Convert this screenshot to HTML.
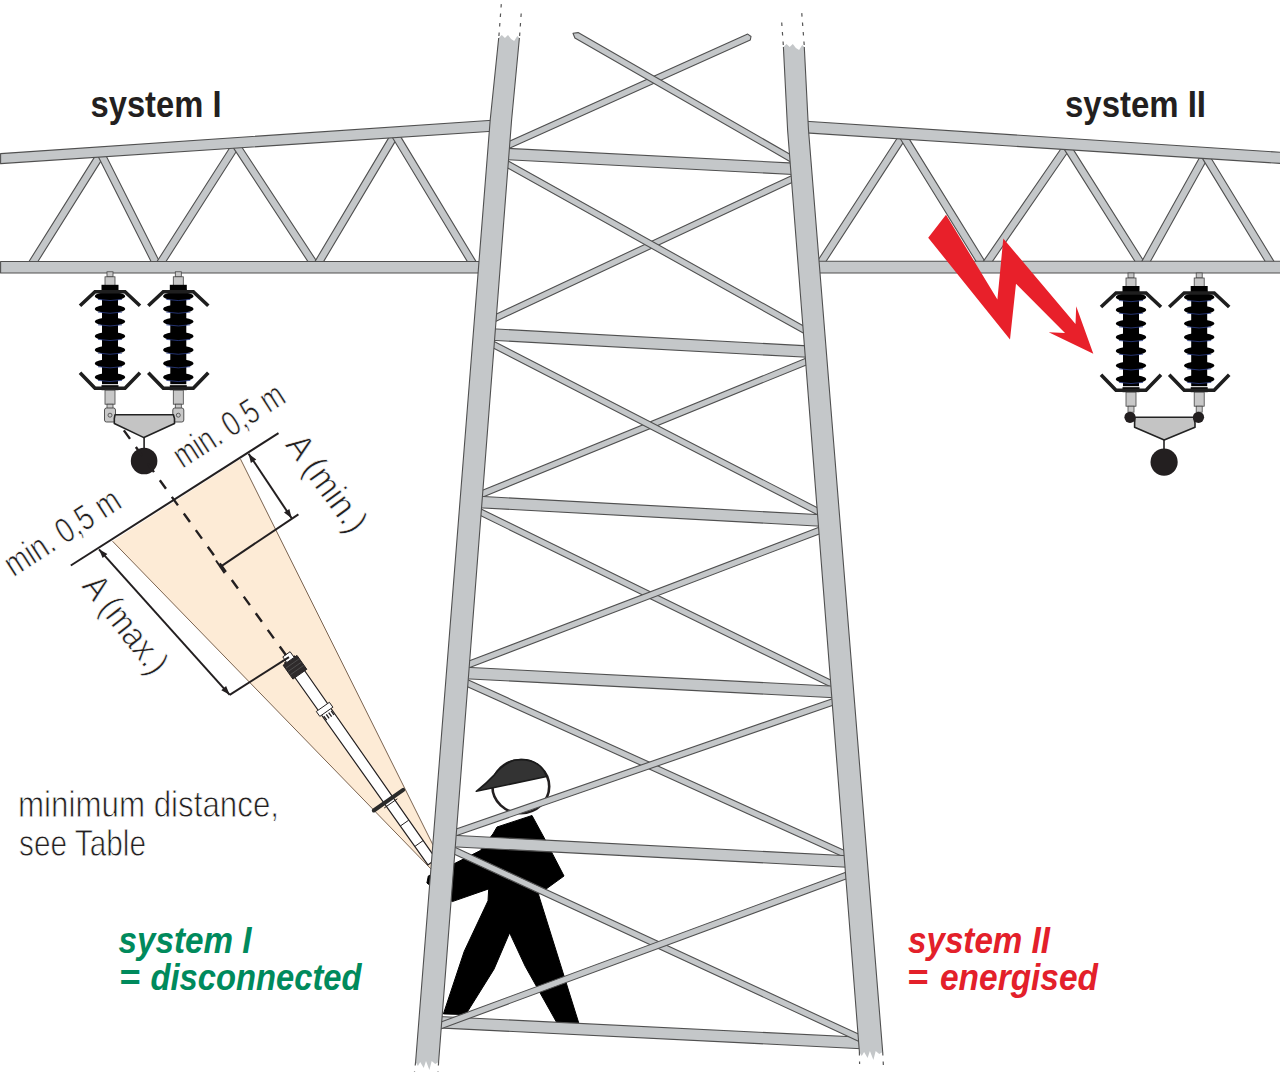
<!DOCTYPE html>
<html><head><meta charset="utf-8"><style>
html,body{margin:0;padding:0;background:#fff;}
body{width:1280px;height:1076px;overflow:hidden;}
svg{display:block;}
</style></head><body>
<svg width="1280" height="1076" viewBox="0 0 1280 1076">
<rect width="1280" height="1076" fill="#ffffff"/>
<polygon points="112.5,541.2 240.5,459.1 433.0,845.0 431.0,869.0" fill="#fdebd6" stroke="none"/>
<line x1="112.5" y1="541.2" x2="431" y2="869" stroke="#7a6350" stroke-width="1"/>
<line x1="240.5" y1="459.1" x2="433" y2="845" stroke="#7a6350" stroke-width="1"/>
<polygon points="294.4,656.0 436.1,859.1 427.9,864.9 284.6,663.0" fill="#ffffff" stroke="#231f20" stroke-width="1.2" stroke-linejoin="round" />
<polygon points="297.0,655.4 306.8,669.3 292.9,679.1 283.1,665.2" fill="#2e2a2b" stroke="#231f20" stroke-width="1" stroke-linejoin="round" />
<polygon points="290.1,651.7 294.2,657.4 286.8,662.6 282.8,656.9" fill="#ffffff" stroke="#231f20" stroke-width="1" stroke-linejoin="round" />
<line x1="298.9" y1="659.0" x2="285.8" y2="668.2" stroke="#555" stroke-width="0.8"/>
<line x1="301.2" y1="662.3" x2="288.1" y2="671.5" stroke="#555" stroke-width="0.8"/>
<line x1="303.5" y1="665.5" x2="290.4" y2="674.7" stroke="#555" stroke-width="0.8"/>
<polygon points="329.4,702.3 332.9,707.2 319.8,716.4 316.3,711.5" fill="#ffffff" stroke="#231f20" stroke-width="1" stroke-linejoin="round" />
<line x1="331.2" y1="710.9" x2="334.0" y2="715.0" stroke="#231f20" stroke-width="1.3"/>
<line x1="328.7" y1="712.6" x2="331.6" y2="716.7" stroke="#231f20" stroke-width="1.3"/>
<line x1="326.3" y1="714.3" x2="329.1" y2="718.4" stroke="#231f20" stroke-width="1.3"/>
<line x1="323.8" y1="716.1" x2="326.7" y2="720.2" stroke="#231f20" stroke-width="1.3"/>
<line x1="403.2" y1="789.8" x2="373.8" y2="810.5" stroke="#2a2a2a" stroke-width="4" stroke-linecap="round"/>
<line x1="397.3" y1="798.8" x2="384.2" y2="808.0" stroke="#231f20" stroke-width="1"/>
<line x1="408.7" y1="820.2" x2="400.5" y2="825.9" stroke="#231f20" stroke-width="1"/>
<line x1="423.1" y1="840.6" x2="414.9" y2="846.4" stroke="#231f20" stroke-width="1"/>
<polygon points="497.0,827.0 532.0,815.5 545.0,839.4 564.0,876.0 538.5,894.5 578.7,1022.8 556.4,1022.0 525.2,966.3 509.6,932.8 494.0,969.2 465.7,1014.6 443.4,1013.9 464.2,951.4 488.0,900.8 488.7,888.9 452.3,901.6 426.9,883.0 428.3,876.0 455.0,863.3 480.3,850.6 493.0,833.8" fill="#000000" stroke="#000000" stroke-width="1" stroke-linejoin="round" />
<ellipse cx="520.8" cy="786.6" rx="28.4" ry="26.6" fill="#ffffff" stroke="#231f20" stroke-width="2.6"/>
<path d="M476.3,791.3 Q487,783 494.6,774.6 Q503,764 514,760.3 Q530,757.5 540,766 Q545,771 546.6,776.5 Z" fill="#333333" stroke="#1a1a1a" stroke-width="1.6" stroke-linejoin="round"/>
<polygon points="33.2,269.0 104.2,155.9 97.8,151.9 26.8,265.0" fill="#c4c7c9" stroke="#505050" stroke-width="1.1" stroke-linejoin="round" />
<polygon points="97.7,155.6 154.7,268.7 161.3,265.3 104.3,152.2" fill="#c4c7c9" stroke="#505050" stroke-width="1.1" stroke-linejoin="round" />
<polygon points="161.2,269.0 239.2,147.0 232.8,143.0 154.8,265.0" fill="#c4c7c9" stroke="#505050" stroke-width="1.1" stroke-linejoin="round" />
<polygon points="232.9,147.1 312.9,269.1 319.1,264.9 239.1,143.0" fill="#c4c7c9" stroke="#505050" stroke-width="1.1" stroke-linejoin="round" />
<polygon points="319.2,268.9 398.2,136.4 391.8,132.6 312.8,265.1" fill="#c4c7c9" stroke="#505050" stroke-width="1.1" stroke-linejoin="round" />
<polygon points="391.8,136.5 471.8,268.9 478.2,265.1 398.2,132.6" fill="#c4c7c9" stroke="#505050" stroke-width="1.1" stroke-linejoin="round" />
<polygon points="821.1,269.0 906.1,138.1 899.9,134.0 814.9,265.0" fill="#c4c7c9" stroke="#505050" stroke-width="1.1" stroke-linejoin="round" />
<polygon points="899.8,138.0 980.8,269.0 987.2,265.0 906.2,134.1" fill="#c4c7c9" stroke="#505050" stroke-width="1.1" stroke-linejoin="round" />
<polygon points="987.1,269.1 1070.1,148.7 1063.9,144.5 980.9,264.9" fill="#c4c7c9" stroke="#505050" stroke-width="1.1" stroke-linejoin="round" />
<polygon points="1063.8,148.6 1139.8,269.0 1146.2,265.0 1070.2,144.6" fill="#c4c7c9" stroke="#505050" stroke-width="1.1" stroke-linejoin="round" />
<polygon points="1146.3,268.8 1208.3,157.3 1201.7,153.7 1139.7,265.2" fill="#c4c7c9" stroke="#505050" stroke-width="1.1" stroke-linejoin="round" />
<polygon points="1201.8,157.4 1269.8,269.0 1276.2,265.0 1208.2,153.5" fill="#c4c7c9" stroke="#505050" stroke-width="1.1" stroke-linejoin="round" />
<polygon points="0.6,153.6 496.0,120.0 496.0,131.0 0.6,163.6" fill="#c4c7c9" stroke="#505050" stroke-width="1.1" stroke-linejoin="round" />
<polygon points="802.0,121.0 1282.0,152.4 1282.0,163.5 802.0,132.6" fill="#c4c7c9" stroke="#505050" stroke-width="1.1" stroke-linejoin="round" />
<polygon points="0.6,261.5 482.0,261.5 482.0,273.0 0.6,273.0" fill="#c4c7c9" stroke="#505050" stroke-width="1.1" stroke-linejoin="round" />
<polygon points="815.0,261.2 1282.0,261.2 1282.0,273.0 815.0,273.0" fill="#c4c7c9" stroke="#505050" stroke-width="1.1" stroke-linejoin="round" />
<polygon points="747.7,34.1 506.3,142.6 508.9,148.4 750.3,39.9 751.0,36.5" fill="#c4c7c9" stroke="#505050" stroke-width="1.1" stroke-linejoin="round" />
<polygon points="574.9,38.0 790.3,161.7 793.4,156.3 578.1,32.6 573.0,33.3" fill="#c4c7c9" stroke="#505050" stroke-width="1.1" stroke-linejoin="round" />
<polygon points="792.0,175.4 492.9,315.7 495.5,321.5 794.7,181.2" fill="#c4c7c9" stroke="#505050" stroke-width="1.1" stroke-linejoin="round" />
<polygon points="504.7,166.3 803.7,333.3 806.7,327.7 507.8,160.7" fill="#c4c7c9" stroke="#505050" stroke-width="1.1" stroke-linejoin="round" />
<polygon points="806.4,358.1 479.4,491.6 481.8,497.4 808.8,363.9" fill="#c4c7c9" stroke="#505050" stroke-width="1.1" stroke-linejoin="round" />
<polygon points="490.8,346.8 817.9,515.1 820.8,509.5 493.7,341.2" fill="#c4c7c9" stroke="#505050" stroke-width="1.1" stroke-linejoin="round" />
<polygon points="477.9,514.3 831.4,687.3 834.2,681.7 480.6,508.7" fill="#c4c7c9" stroke="#505050" stroke-width="1.1" stroke-linejoin="round" />
<polygon points="819.6,527.1 466.2,662.1 468.5,667.9 821.9,532.9" fill="#c4c7c9" stroke="#505050" stroke-width="1.1" stroke-linejoin="round" />
<polygon points="464.7,685.4 844.7,857.6 847.3,851.8 467.3,679.6" fill="#c4c7c9" stroke="#505050" stroke-width="1.1" stroke-linejoin="round" />
<polygon points="833.1,698.5 453.3,830.0 455.4,836.0 835.1,704.5" fill="#c4c7c9" stroke="#505050" stroke-width="1.1" stroke-linejoin="round" />
<polygon points="505.7,159.7 793.3,174.5 793.9,163.1 506.3,148.3" fill="#c4c7c9" stroke="#505050" stroke-width="1.1" stroke-linejoin="round" />
<polygon points="491.7,340.2 807.5,357.3 808.2,345.9 492.3,328.8" fill="#c4c7c9" stroke="#505050" stroke-width="1.1" stroke-linejoin="round" />
<polygon points="478.7,507.7 820.7,526.2 821.3,514.8 479.3,496.3" fill="#c4c7c9" stroke="#505050" stroke-width="1.1" stroke-linejoin="round" />
<polygon points="465.4,678.7 834.1,697.7 834.7,686.3 466.0,667.3" fill="#c4c7c9" stroke="#505050" stroke-width="1.1" stroke-linejoin="round" />
<polygon points="452.4,846.7 847.3,867.2 847.9,855.8 453.0,835.3" fill="#c4c7c9" stroke="#505050" stroke-width="1.1" stroke-linejoin="round" />
<polygon points="438.4,1027.9 861.4,1048.7 862.0,1037.3 439.0,1016.5" fill="#c4c7c9" stroke="#505050" stroke-width="1.1" stroke-linejoin="round" />
<polygon points="451.7,852.9 859.0,1041.4 861.7,1035.6 454.4,847.1" fill="#c4c7c9" stroke="#505050" stroke-width="1.1" stroke-linejoin="round" />
<polygon points="846.5,872.0 438.3,1023.0 440.5,1029.0 848.7,878.0" fill="#c4c7c9" stroke="#505050" stroke-width="1.1" stroke-linejoin="round" />
<polygon points="498.7,38.0 501.8,35.0 504.9,38.0 508.0,35.0 511.1,39.0 514.2,41.0 517.3,36.0 519.4,38.0 511.6,120.0 438.6,1062.0 435.2,1064.0 431.7,1061.0 429.4,1070.0 426.0,1061.0 423.7,1068.0 420.2,1062.0 417.9,1066.0 415.6,1062.0 490.2,120.0" fill="#c4c7c9" stroke="none"/>
<polyline points="498.7,38.0 490.2,120.0 415.6,1062.0" fill="none" stroke="#505050" stroke-width="1.1"/>
<polyline points="519.4,38.0 511.6,120.0 438.6,1062.0" fill="none" stroke="#505050" stroke-width="1.1"/>
<polygon points="783.4,47.0 786.5,44.0 789.7,47.0 792.8,44.0 795.9,48.0 799.1,50.0 802.2,45.0 804.3,47.0 808.5,130.0 882.7,1052.0 879.2,1054.0 875.7,1051.0 873.4,1060.0 869.9,1051.0 867.6,1058.0 864.1,1052.0 861.7,1056.0 859.4,1052.0 787.6,130.0" fill="#c4c7c9" stroke="none"/>
<polyline points="783.4,47.0 787.6,130.0 859.4,1052.0" fill="none" stroke="#505050" stroke-width="1.1"/>
<polyline points="804.3,47.0 808.5,130.0 882.7,1052.0" fill="none" stroke="#505050" stroke-width="1.1"/>
<line x1="498.9" y1="36" x2="501.6" y2="0" stroke="#555" stroke-width="1.2" stroke-dasharray="3.5,6" fill="none"/>
<line x1="519.6" y1="36" x2="521.3" y2="12" stroke="#555" stroke-width="1.2" stroke-dasharray="3.5,6" fill="none"/>
<line x1="783.3" y1="45" x2="781.6" y2="21" stroke="#555" stroke-width="1.2" stroke-dasharray="3.5,6" fill="none"/>
<line x1="804.2" y1="45" x2="801.6" y2="11" stroke="#555" stroke-width="1.2" stroke-dasharray="3.5,6" fill="none"/>
<line x1="415.6" y1="1062" x2="414.5" y2="1072" stroke="#555" stroke-width="1.2" stroke-dasharray="3.5,6" fill="none"/>
<line x1="438.6" y1="1062" x2="438" y2="1072" stroke="#555" stroke-width="1.2" stroke-dasharray="3.5,6" fill="none"/>
<line x1="859.4" y1="1052" x2="859.6" y2="1064" stroke="#555" stroke-width="1.2" stroke-dasharray="3.5,6" fill="none"/>
<line x1="882.7" y1="1052" x2="883.5" y2="1068" stroke="#555" stroke-width="1.2" stroke-dasharray="3.5,6" fill="none"/>
<rect x="107" y="271.8" width="6" height="5" fill="#c8c8c8" stroke="#444" stroke-width="0.8"/>
<rect x="105" y="276.8" width="10" height="9" fill="#c8c8c8" stroke="#444" stroke-width="0.8"/>
<rect x="101.5" y="284.8" width="17" height="6" fill="#000"/>
<rect x="102" y="288.8" width="16" height="95.39999999999998" fill="#000"/>
<ellipse cx="110" cy="296.2" rx="15.2" ry="4.2" fill="#000"/>
<path d="M98,299.4 Q110,301.7 122,299.4" stroke="#2c3f8a" stroke-width="0.8" fill="none"/>
<ellipse cx="110" cy="308.9" rx="15.2" ry="4.2" fill="#000"/>
<path d="M98,312.09999999999997 Q110,314.4 122,312.09999999999997" stroke="#2c3f8a" stroke-width="0.8" fill="none"/>
<ellipse cx="110" cy="321.6" rx="15.2" ry="4.2" fill="#000"/>
<path d="M98,324.8 Q110,327.1 122,324.8" stroke="#2c3f8a" stroke-width="0.8" fill="none"/>
<ellipse cx="110" cy="336.2" rx="15.2" ry="4.2" fill="#000"/>
<path d="M98,339.4 Q110,341.7 122,339.4" stroke="#2c3f8a" stroke-width="0.8" fill="none"/>
<ellipse cx="110" cy="349.9" rx="15.2" ry="4.2" fill="#000"/>
<path d="M98,353.09999999999997 Q110,355.4 122,353.09999999999997" stroke="#2c3f8a" stroke-width="0.8" fill="none"/>
<ellipse cx="110" cy="363.5" rx="15.2" ry="4.2" fill="#000"/>
<path d="M98,366.7 Q110,369.0 122,366.7" stroke="#2c3f8a" stroke-width="0.8" fill="none"/>
<ellipse cx="110" cy="377.2" rx="15.2" ry="4.2" fill="#000"/>
<path d="M98,380.4 Q110,382.7 122,380.4" stroke="#2c3f8a" stroke-width="0.8" fill="none"/>
<rect x="101.5" y="385.2" width="17" height="5" fill="#000"/>
<polyline points="80,305.8 95,291.8 125,291.8 140,305.8" fill="none" stroke="#1e1e1e" stroke-width="3.6"/>
<polyline points="80,372.7 95,388.2 125,388.2 140,372.7" fill="none" stroke="#1e1e1e" stroke-width="3.6"/>
<rect x="105" y="390.2" width="10" height="14" fill="#c8c8c8" stroke="#444" stroke-width="0.8"/>
<rect x="107" y="404.2" width="6" height="6" fill="#c8c8c8" stroke="#444" stroke-width="0.8"/>
<rect x="175.3" y="271.8" width="6" height="5" fill="#c8c8c8" stroke="#444" stroke-width="0.8"/>
<rect x="173.3" y="276.8" width="10" height="9" fill="#c8c8c8" stroke="#444" stroke-width="0.8"/>
<rect x="169.8" y="284.8" width="17" height="6" fill="#000"/>
<rect x="170.3" y="288.8" width="16" height="95.39999999999998" fill="#000"/>
<ellipse cx="178.3" cy="296.2" rx="15.2" ry="4.2" fill="#000"/>
<path d="M166.3,299.4 Q178.3,301.7 190.3,299.4" stroke="#2c3f8a" stroke-width="0.8" fill="none"/>
<ellipse cx="178.3" cy="308.9" rx="15.2" ry="4.2" fill="#000"/>
<path d="M166.3,312.09999999999997 Q178.3,314.4 190.3,312.09999999999997" stroke="#2c3f8a" stroke-width="0.8" fill="none"/>
<ellipse cx="178.3" cy="321.6" rx="15.2" ry="4.2" fill="#000"/>
<path d="M166.3,324.8 Q178.3,327.1 190.3,324.8" stroke="#2c3f8a" stroke-width="0.8" fill="none"/>
<ellipse cx="178.3" cy="336.2" rx="15.2" ry="4.2" fill="#000"/>
<path d="M166.3,339.4 Q178.3,341.7 190.3,339.4" stroke="#2c3f8a" stroke-width="0.8" fill="none"/>
<ellipse cx="178.3" cy="349.9" rx="15.2" ry="4.2" fill="#000"/>
<path d="M166.3,353.09999999999997 Q178.3,355.4 190.3,353.09999999999997" stroke="#2c3f8a" stroke-width="0.8" fill="none"/>
<ellipse cx="178.3" cy="363.5" rx="15.2" ry="4.2" fill="#000"/>
<path d="M166.3,366.7 Q178.3,369.0 190.3,366.7" stroke="#2c3f8a" stroke-width="0.8" fill="none"/>
<ellipse cx="178.3" cy="377.2" rx="15.2" ry="4.2" fill="#000"/>
<path d="M166.3,380.4 Q178.3,382.7 190.3,380.4" stroke="#2c3f8a" stroke-width="0.8" fill="none"/>
<rect x="169.8" y="385.2" width="17" height="5" fill="#000"/>
<polyline points="148.3,305.8 163.3,291.8 193.3,291.8 208.3,305.8" fill="none" stroke="#1e1e1e" stroke-width="3.6"/>
<polyline points="148.3,372.7 163.3,388.2 193.3,388.2 208.3,372.7" fill="none" stroke="#1e1e1e" stroke-width="3.6"/>
<rect x="173.3" y="390.2" width="10" height="14" fill="#c8c8c8" stroke="#444" stroke-width="0.8"/>
<rect x="175.3" y="404.2" width="6" height="6" fill="#c8c8c8" stroke="#444" stroke-width="0.8"/>
<rect x="104.5" y="408" width="11" height="14" rx="2" fill="#c8c8c8" stroke="#444" stroke-width="0.9"/>
<circle cx="110" cy="415.2" r="2" fill="none" stroke="#444" stroke-width="0.8"/>
<rect x="172.8" y="408" width="11" height="14" rx="2" fill="#c8c8c8" stroke="#444" stroke-width="0.9"/>
<circle cx="178.3" cy="415.2" r="2" fill="none" stroke="#444" stroke-width="0.8"/>
<polygon points="115.0,414.8 173.4,414.8 174.5,418.5 174.5,423.5 143.9,437.6 114.3,423.5 114.3,418.5" fill="#c4c4c4" stroke="#222" stroke-width="1.6" stroke-linejoin="round" />
<line x1="144.1" y1="437.6" x2="144.1" y2="450" stroke="#222" stroke-width="1.6"/>
<circle cx="144.1" cy="461" r="13.3" fill="#231f20"/>
<rect x="1128" y="273" width="6" height="5" fill="#c8c8c8" stroke="#444" stroke-width="0.8"/>
<rect x="1126" y="278" width="10" height="9" fill="#c8c8c8" stroke="#444" stroke-width="0.8"/>
<rect x="1122.5" y="286" width="17" height="6" fill="#000"/>
<rect x="1123" y="290" width="16" height="96.19999999999999" fill="#000"/>
<ellipse cx="1131" cy="297.3" rx="15.2" ry="4.2" fill="#000"/>
<path d="M1119,300.5 Q1131,302.8 1143,300.5" stroke="#2c3f8a" stroke-width="0.8" fill="none"/>
<ellipse cx="1131" cy="310" rx="15.2" ry="4.2" fill="#000"/>
<path d="M1119,313.2 Q1131,315.5 1143,313.2" stroke="#2c3f8a" stroke-width="0.8" fill="none"/>
<ellipse cx="1131" cy="323.6" rx="15.2" ry="4.2" fill="#000"/>
<path d="M1119,326.8 Q1131,329.1 1143,326.8" stroke="#2c3f8a" stroke-width="0.8" fill="none"/>
<ellipse cx="1131" cy="337.3" rx="15.2" ry="4.2" fill="#000"/>
<path d="M1119,340.5 Q1131,342.8 1143,340.5" stroke="#2c3f8a" stroke-width="0.8" fill="none"/>
<ellipse cx="1131" cy="351" rx="15.2" ry="4.2" fill="#000"/>
<path d="M1119,354.2 Q1131,356.5 1143,354.2" stroke="#2c3f8a" stroke-width="0.8" fill="none"/>
<ellipse cx="1131" cy="365.6" rx="15.2" ry="4.2" fill="#000"/>
<path d="M1119,368.8 Q1131,371.1 1143,368.8" stroke="#2c3f8a" stroke-width="0.8" fill="none"/>
<ellipse cx="1131" cy="379.2" rx="15.2" ry="4.2" fill="#000"/>
<path d="M1119,382.4 Q1131,384.7 1143,382.4" stroke="#2c3f8a" stroke-width="0.8" fill="none"/>
<rect x="1122.5" y="387.2" width="17" height="5" fill="#000"/>
<polyline points="1101,307 1116,293 1146,293 1161,307" fill="none" stroke="#1e1e1e" stroke-width="3.6"/>
<polyline points="1101,374.7 1116,390.2 1146,390.2 1161,374.7" fill="none" stroke="#1e1e1e" stroke-width="3.6"/>
<rect x="1126" y="392.2" width="10" height="14" fill="#c8c8c8" stroke="#444" stroke-width="0.8"/>
<rect x="1128" y="406.2" width="6" height="6" fill="#c8c8c8" stroke="#444" stroke-width="0.8"/>
<rect x="1196.2" y="273" width="6" height="5" fill="#c8c8c8" stroke="#444" stroke-width="0.8"/>
<rect x="1194.2" y="278" width="10" height="9" fill="#c8c8c8" stroke="#444" stroke-width="0.8"/>
<rect x="1190.7" y="286" width="17" height="6" fill="#000"/>
<rect x="1191.2" y="290" width="16" height="96.19999999999999" fill="#000"/>
<ellipse cx="1199.2" cy="297.3" rx="15.2" ry="4.2" fill="#000"/>
<path d="M1187.2,300.5 Q1199.2,302.8 1211.2,300.5" stroke="#2c3f8a" stroke-width="0.8" fill="none"/>
<ellipse cx="1199.2" cy="310" rx="15.2" ry="4.2" fill="#000"/>
<path d="M1187.2,313.2 Q1199.2,315.5 1211.2,313.2" stroke="#2c3f8a" stroke-width="0.8" fill="none"/>
<ellipse cx="1199.2" cy="323.6" rx="15.2" ry="4.2" fill="#000"/>
<path d="M1187.2,326.8 Q1199.2,329.1 1211.2,326.8" stroke="#2c3f8a" stroke-width="0.8" fill="none"/>
<ellipse cx="1199.2" cy="337.3" rx="15.2" ry="4.2" fill="#000"/>
<path d="M1187.2,340.5 Q1199.2,342.8 1211.2,340.5" stroke="#2c3f8a" stroke-width="0.8" fill="none"/>
<ellipse cx="1199.2" cy="351" rx="15.2" ry="4.2" fill="#000"/>
<path d="M1187.2,354.2 Q1199.2,356.5 1211.2,354.2" stroke="#2c3f8a" stroke-width="0.8" fill="none"/>
<ellipse cx="1199.2" cy="365.6" rx="15.2" ry="4.2" fill="#000"/>
<path d="M1187.2,368.8 Q1199.2,371.1 1211.2,368.8" stroke="#2c3f8a" stroke-width="0.8" fill="none"/>
<ellipse cx="1199.2" cy="379.2" rx="15.2" ry="4.2" fill="#000"/>
<path d="M1187.2,382.4 Q1199.2,384.7 1211.2,382.4" stroke="#2c3f8a" stroke-width="0.8" fill="none"/>
<rect x="1190.7" y="387.2" width="17" height="5" fill="#000"/>
<polyline points="1169.2,307 1184.2,293 1214.2,293 1229.2,307" fill="none" stroke="#1e1e1e" stroke-width="3.6"/>
<polyline points="1169.2,374.7 1184.2,390.2 1214.2,390.2 1229.2,374.7" fill="none" stroke="#1e1e1e" stroke-width="3.6"/>
<rect x="1194.2" y="392.2" width="10" height="14" fill="#c8c8c8" stroke="#444" stroke-width="0.8"/>
<rect x="1196.2" y="406.2" width="6" height="6" fill="#c8c8c8" stroke="#444" stroke-width="0.8"/>
<polygon points="1135.0,417.2 1193.6,417.2 1195.0,422.7 1195.0,427.3 1164.2,439.9 1134.6,427.3 1134.6,422.7" fill="#c4c4c4" stroke="#222" stroke-width="1.6" stroke-linejoin="round" />
<circle cx="1130" cy="417.3" r="5.6" fill="#231f20"/>
<circle cx="1198.5" cy="417.3" r="5.6" fill="#231f20"/>
<line x1="1164" y1="439.7" x2="1164" y2="450" stroke="#222" stroke-width="1.6"/>
<circle cx="1164.1" cy="462.1" r="13.6" fill="#231f20"/>
<line x1="70.8" y1="565.5" x2="278.5" y2="433.2" stroke="#231f20" stroke-width="2" fill="none"/>
<line x1="120" y1="425" x2="288" y2="658" stroke="#231f20" stroke-width="2.4" stroke-dasharray="10.5,10" stroke-dashoffset="13.9"/>
<line x1="99" y1="549.3" x2="229.7" y2="694.8" stroke="#231f20" stroke-width="2" fill="none"/>
<polygon points="99.0,549.3 107.4,553.9 102.6,558.1" fill="#231f20"/>
<polygon points="229.7,694.8 221.3,690.2 226.1,686.0" fill="#231f20"/>
<line x1="229.7" y1="694.8" x2="289" y2="657.1" stroke="#231f20" stroke-width="2" fill="none"/>
<line x1="248.6" y1="453.7" x2="291.7" y2="518.3" stroke="#231f20" stroke-width="2" fill="none"/>
<polygon points="248.6,453.7 256.3,459.4 250.9,463.0" fill="#231f20"/>
<polygon points="291.7,518.3 284.0,512.6 289.4,509.0" fill="#231f20"/>
<line x1="298.4" y1="514.3" x2="220.3" y2="566.8" stroke="#231f20" stroke-width="2" fill="none"/>
<line x1="216" y1="560.5" x2="224.6" y2="573.1" stroke="#231f20" stroke-width="2" fill="none"/>
<text x="90.5" y="116.6" font-family='"Liberation Sans", sans-serif' font-weight="bold" font-size="37.5" fill="#231f20" textLength="131" lengthAdjust="spacingAndGlyphs">system I</text>
<text x="1065" y="117.2" font-family='"Liberation Sans", sans-serif' font-weight="bold" font-size="37.5" fill="#231f20" textLength="141" lengthAdjust="spacingAndGlyphs">system II</text>
<text x="18" y="816.9" font-family='"Liberation Sans", sans-serif' font-size="36" fill="#231f20" stroke="#fff" stroke-width="0.8" textLength="261" lengthAdjust="spacingAndGlyphs">minimum distance,</text>
<text x="19" y="855.5" font-family='"Liberation Sans", sans-serif' font-size="36" fill="#231f20" stroke="#fff" stroke-width="0.8" textLength="127" lengthAdjust="spacingAndGlyphs">see Table</text>
<text x="118.5" y="952.7" font-family='"Liberation Sans", sans-serif' font-weight="bold" font-style="italic" font-size="36" fill="#008a5c" textLength="133" lengthAdjust="spacingAndGlyphs">system I</text>
<text x="119" y="989.9" font-family='"Liberation Sans", sans-serif' font-weight="bold" font-style="italic" font-size="36" fill="#008a5c">=</text>
<text x="150.5" y="989.9" font-family='"Liberation Sans", sans-serif' font-weight="bold" font-style="italic" font-size="36" fill="#008a5c" textLength="211" lengthAdjust="spacingAndGlyphs">disconnected</text>
<text x="908" y="953.1" font-family='"Liberation Sans", sans-serif' font-weight="bold" font-style="italic" font-size="36" fill="#e3202a" textLength="142" lengthAdjust="spacingAndGlyphs">system II</text>
<text x="907" y="990" font-family='"Liberation Sans", sans-serif' font-weight="bold" font-style="italic" font-size="36" fill="#e3202a">=</text>
<text x="940" y="990" font-family='"Liberation Sans", sans-serif' font-weight="bold" font-style="italic" font-size="36" fill="#e3202a" textLength="158" lengthAdjust="spacingAndGlyphs">energised</text>
<text transform="translate(182.5,469) rotate(-32.7)" font-family='"Liberation Sans", sans-serif' font-size="35.5" fill="#231f20" stroke="#fff" stroke-width="0.7" textLength="125" lengthAdjust="spacingAndGlyphs">min. 0,5 m</text>
<text transform="translate(13.5,577.5) rotate(-32.7)" font-family='"Liberation Sans", sans-serif' font-size="35.5" fill="#231f20" stroke="#fff" stroke-width="0.7" textLength="131" lengthAdjust="spacingAndGlyphs">min. 0,5 m</text>
<text transform="translate(284.5,445) rotate(54)" font-family='"Liberation Sans", sans-serif' font-size="35.5" fill="#231f20" stroke="#fff" stroke-width="0.7" textLength="112" lengthAdjust="spacingAndGlyphs">A (min.)</text>
<text transform="translate(81,586.5) rotate(52)" font-family='"Liberation Sans", sans-serif' font-size="35.5" fill="#231f20" stroke="#fff" stroke-width="0.7" textLength="115" lengthAdjust="spacingAndGlyphs">A (max.)</text>
<polygon points="946.0,214.7 997.4,299.5 1003.3,238.5 1075.5,324.0 1076.2,306.2 1093.3,353.8 1048.7,332.2 1065.0,332.9 1016.0,283.8 1010.0,339.6 928.2,237.7" fill="#e8202a" stroke="none" stroke-width="0" stroke-linejoin="round" />
</svg>
</body></html>
